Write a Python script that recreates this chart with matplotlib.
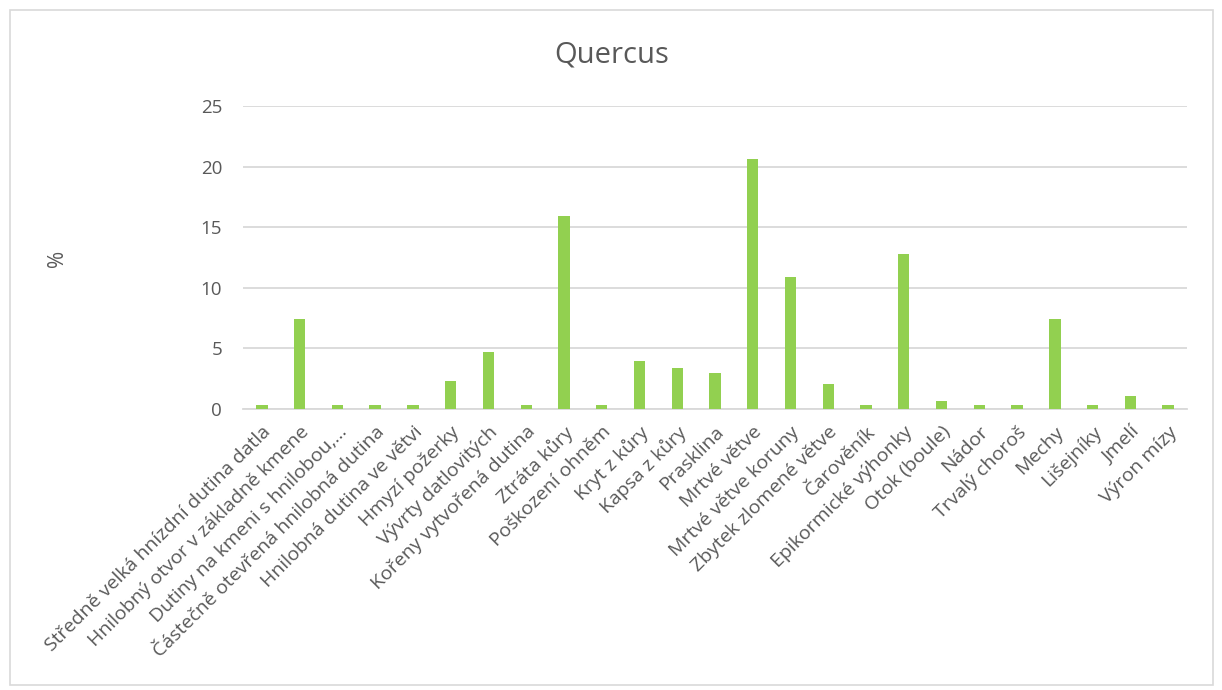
import matplotlib.pyplot as plt
from matplotlib.patches import Rectangle

# kategorie mikrostanovišť a jejich podíl (%)
kategorie = [
    'Středně velká hnízdní dutina datla',
    'Hnilobný otvor v základně kmene',
    'Dutiny na kmeni s hnilobou,...',
    'Částečně otevřená hnilobná dutina',
    'Hnilobná dutina ve větvi',
    'Hmyzí požerky',
    'Vývrty datlovitých',
    'Kořeny vytvořená dutina',
    'Ztráta kůry',
    'Poškození ohněm',
    'Kryt z kůry',
    'Kapsa z kůry',
    'Prasklina',
    'Mrtvé větve',
    'Mrtvé větve koruny',
    'Zbytek zlomené větve',
    'Čarověník',
    'Epikormické výhonky',
    'Otok (boule)',
    'Nádor',
    'Trvalý choroš',
    'Mechy',
    'Lišejníky',
    'Jmelí',
    'Výron mízy',
]
procenta = [0.3, 7.4, 0.3, 0.3, 0.3, 2.35, 4.7, 0.3, 15.9, 0.3, 4.0, 3.4, 3.0,
            20.6, 10.85, 2.05, 0.3, 12.8, 0.65, 0.3, 0.3, 7.45, 0.3, 1.05, 0.3]
y_ticks = [0, 5, 10, 15, 20, 25]

plt.rcParams['font.family'] = ['Open Sans', 'DejaVu Sans']
sedy = '#595959'

fig = plt.figure(figsize=(12.22, 6.90), dpi=100)
ax = fig.add_axes([243 / 1222, 1 - 409 / 690, 944 / 1222, 303 / 690])

x = range(len(kategorie))
ax.bar(x, procenta, width=0.3, color='#92D050', zorder=3)

ax.set_xlim(-0.5, len(kategorie) - 0.5)
ax.set_ylim(0, 25)
ax.set_yticks(y_ticks)
ax.set_yticklabels([str(t) for t in y_ticks], fontsize=13.5, color=sedy)
ax.set_xticks(list(x))
ax.set_xticklabels(kategorie, rotation=45, ha='right', va='top',
                   rotation_mode='anchor', fontsize=14, color=sedy)
ax.tick_params(axis='both', length=0)
ax.tick_params(axis='y', pad=15)
ax.tick_params(axis='x', pad=10)

ax.grid(axis='y', color='#D9D9D9', linewidth=1.3, zorder=0)
for side in ['left', 'right', 'top']:
    ax.spines[side].set_visible(False)
ax.spines['bottom'].set_color('#D9D9D9')
ax.spines['bottom'].set_linewidth(1.3)

fig.text(612 / 1222, 1 - 55 / 690, 'Quercus', ha='center', va='center',
         fontsize=21, color=sedy)
fig.text(58 / 1222, 1 - 258 / 690, '%', ha='center', va='center',
         rotation=90, fontsize=15, color=sedy)

# rámeček celého grafu
fig.patches.append(Rectangle((10 / 1222, 5 / 690), 1203 / 1222, 675 / 690,
                             transform=fig.transFigure, fill=False,
                             edgecolor='#D9D9D9', linewidth=1.2))

fig.savefig('out.png', dpi=100)
